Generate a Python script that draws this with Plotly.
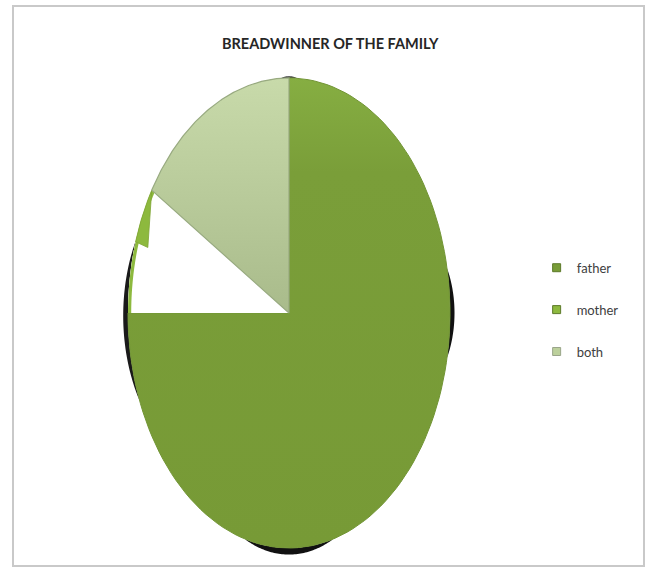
import numpy as np
import plotly.graph_objects as go

# Who earns for the household (number of respondents)
categories = ["father", "mother", "both"]
counts = [60, 7, 13]
colors = ["#789c37", "#8db93e", "#bcd09c"]

W, H = 645, 568
CX, CY, RX, RY = 289, 313, 161, 235  # ellipse geometry in pixels


def ellipse_pts(t0, t1, scale=1.0, n=120):
    t = np.radians(np.linspace(t0, t1, n))
    return CX + RX * scale * np.sin(t), CY - RY * scale * np.cos(t)


def wedge(t0, t1, r_in=0.0, r_out=1.0):
    xo, yo = ellipse_pts(t0, t1, r_out)
    if r_in <= 0:
        xs = np.concatenate([[CX], xo, [CX]])
        ys = np.concatenate([[CY], yo, [CY]])
    else:
        xi, yi = ellipse_pts(t1, t0, r_in)
        xs = np.concatenate([xo, xi, xo[:1]])
        ys = np.concatenate([yo, yi, yo[:1]])
    return xs, ys


def rim(t_center, half, amp, n=60):
    # thin dark lens hugging the outside of the ellipse (3-D edge)
    t = np.linspace(t_center - half, t_center + half, n)
    k = 1 + amp * (1 - ((t - t_center) / half) ** 2)
    tr = np.radians(t)
    xo = CX + RX * k * np.sin(tr)
    yo = CY - RY * k * np.cos(tr)
    xi, yi = ellipse_pts(t_center + half, t_center - half, 1.0, n)
    return np.concatenate([xo, xi]), np.concatenate([yo, yi])


total = sum(counts)
angles = np.cumsum([0] + [c / total * 360 for c in counts])

fig = go.Figure()

# dark 3-D edges peeking out behind the pie
for tc, half, amp, col in [(180, 16, 0.028, "#111111"), (90, 11, 0.028, "#111111"),
                           (268, 20, 0.03, "#1a1a1a"), (0, 3, 0.008, "#444444")]:
    xs, ys = rim(tc, half, amp)
    fig.add_trace(go.Scatter(x=xs, y=ys, fill="toself", fillcolor=col, mode="none",
                             hoverinfo="skip", showlegend=False))

# father
xs, ys = wedge(angles[0], angles[1])
fig.add_trace(go.Scatter(
    x=xs, y=ys, fill="toself", mode="lines", line=dict(color="#729535", width=1),
    fillgradient=dict(type="vertical", colorscale=[[0, "#779a36"], [0.8, "#7a9e39"], [1, "#86ae42"]]),
    hoverinfo="skip", showlegend=False))

# mother: the slice itself reads as a gap, only a sliver at the rim is coloured
xs, ys = wedge(angles[1], angles[2])
fig.add_trace(go.Scatter(x=xs, y=ys, fill="toself", fillcolor="white", mode="none",
                         hoverinfo="skip", showlegend=False))
xs, ys = wedge(angles[1], angles[2], r_in=0.98)
fig.add_trace(go.Scatter(x=xs, y=ys, fill="toself", fillcolor=colors[1], mode="none",
                         hoverinfo="skip", showlegend=False))
m_span = angles[2] - angles[1]
t_low = angles[2] - m_span * 0.44
ax, ay = ellipse_pts(t_low, angles[2])
ix, iy = ellipse_pts(t_low, t_low, 0.92, 1)
fig.add_trace(go.Scatter(x=np.concatenate([ax, ix, ax[:1]]), y=np.concatenate([ay, iy, ay[:1]]),
                         fill="toself", fillcolor=colors[1], mode="lines",
                         line=dict(color="#7fa535", width=0.8),
                         hoverinfo="skip", showlegend=False))

# both
xs, ys = wedge(angles[2], angles[3])
fig.add_trace(go.Scatter(
    x=xs, y=ys, fill="toself", mode="lines", line=dict(color="#98aa80", width=1.2),
    fillgradient=dict(type="vertical", colorscale=[[0, "#a9bb8b"], [1, "#c8daaa"]]),
    hoverinfo="skip", showlegend=False))

# legend entries
for i, (name, col) in enumerate(zip(categories, colors)):
    fig.add_trace(go.Scatter(x=[None], y=[None], mode="markers", name=name,
                             legendgroup=f"g{i}",
                             marker=dict(symbol="square", size=8, color=col,
                                         line=dict(color="#5d7a2a" if i < 2 else "#9aa58a", width=1))))

fig.add_shape(type="rect", xref="x", yref="y", x0=13, y0=6, x1=644, y1=566,
              line=dict(color="#c9c9c9", width=2), layer="below")

fig.add_annotation(x=330, y=43, xref="x", yref="y", text="<b>BREADWINNER OF THE FAMILY</b>",
                   showarrow=False, font=dict(family="Lato", size=14.5, color="#262626"))

fig.update_layout(
    width=W, height=H, margin=dict(l=0, r=0, t=0, b=0),
    paper_bgcolor="white", plot_bgcolor="white",
    xaxis=dict(range=[0, W], visible=False, fixedrange=True),
    yaxis=dict(range=[H, 0], visible=False, fixedrange=True),
    legend=dict(x=0.832, y=0.555, xanchor="left", yanchor="top", tracegroupgap=22,
                itemwidth=30, font=dict(family="Lato", size=13, color="#404040"),
                bgcolor="rgba(0,0,0,0)"),
    showlegend=True,
)

fig.write_html("out.html")
